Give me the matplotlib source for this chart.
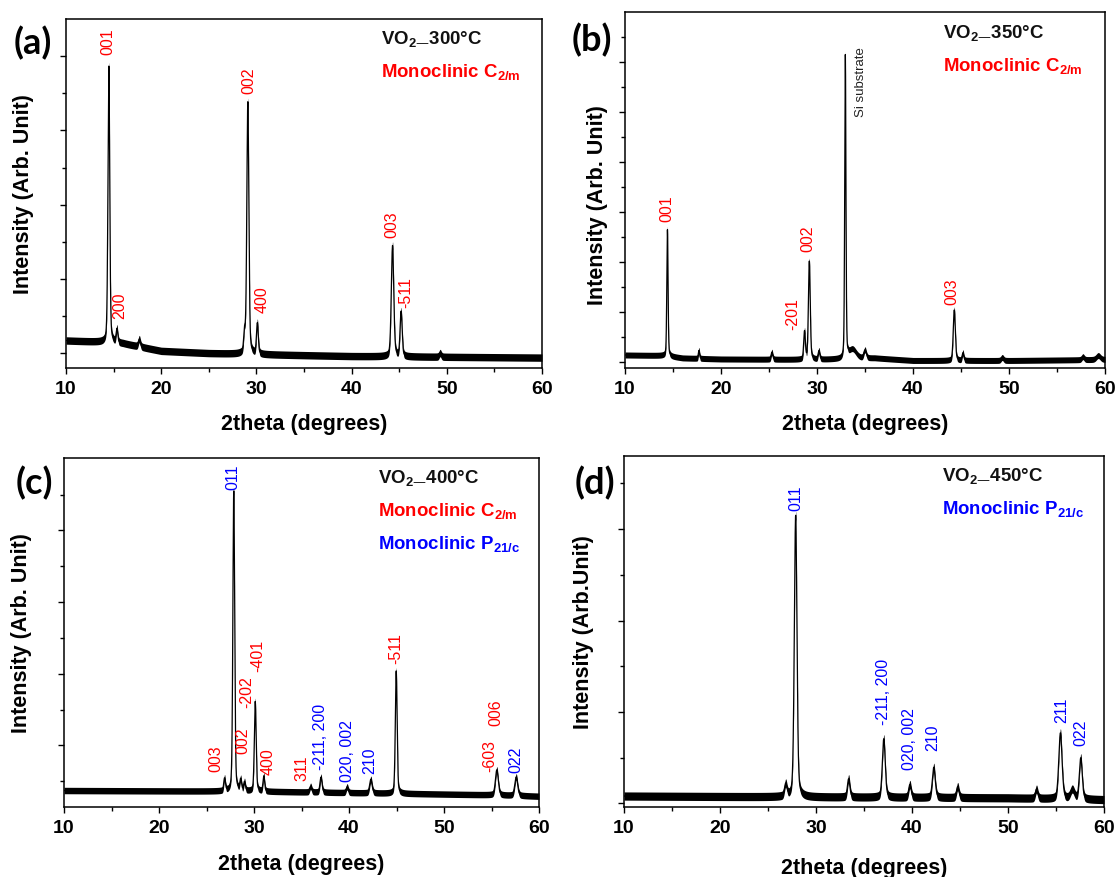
import numpy as np
import matplotlib
matplotlib.use("Agg")
import matplotlib.pyplot as plt
from matplotlib.ticker import MultipleLocator

plt.rcParams['font.family'] = ['Liberation Sans', 'DejaVu Sans']
plt.rcParams['mathtext.default'] = 'regular'

# ---- (a) VO2 300C ----
a_base_x = [10, 14, 16, 18, 20, 25, 32, 40, 50, 60]
a_base_y = [0.17, 0.15, 0.13, 0.08, 0.03, 0.0, -0.02, -0.04, -0.05, -0.06]
a_pos = [14.5, 15.35, 17.7, 28.75, 29.1, 30.1, 44.3, 45.2, 49.3]
a_hgt = [3.72, 0.18, 0.10, 0.25, 3.39, 0.41, 1.49, 0.60, 0.05]
a_fwhm = [0.22, 0.20, 0.25, 0.20, 0.25, 0.22, 0.30, 0.25, 0.25]
a_lab = ["001", "200", "002", "400", "003", "-511"]
a_lab_x = [14.4, 15.6, 29.25, 30.6, 44.2, 45.7]
a_lab_y = [4.03, 0.48, 3.51, 0.55, 1.56, 0.62]
a_lab_c = ["red"] * 6

# ---- (b) VO2 350C ----
b_base_x = [10, 14, 16, 20, 30, 32, 36, 40, 50, 60]
b_base_y = [0.14, 0.13, 0.08, 0.06, 0.05, 0.06, 0.08, 0.03, 0.03, 0.05]
b_pos = [14.42, 17.7, 25.3, 28.7, 29.2, 30.2, 32.95, 33.7, 35.0, 44.3, 45.2, 49.3, 57.7, 59.3]
b_hgt = [2.53, 0.16, 0.14, 0.55, 1.96, 0.17, 6.05, 0.18, 0.16, 1.01, 0.15, 0.06, 0.06, 0.08]
b_fwhm = [0.15, 0.15, 0.20, 0.20, 0.22, 0.20, 0.15, 0.9, 0.3, 0.25, 0.20, 0.3, 0.3, 0.5]
b_lab = ["001", "-201", "002", "003"]
b_lab_x = [14.4, 27.5, 29.1, 44.0]
b_lab_y = [2.82, 0.66, 2.22, 1.16]
b_lab_c = ["red"] * 4

# ---- (c) VO2 400C ----
c_base_x = [10, 30, 45, 55, 60]
c_base_y = [-0.13, -0.14, -0.17, -0.19, -0.21]
c_pos = [26.9, 27.87, 28.6, 29.0, 30.13, 31.03, 35.96, 37.05, 39.8, 42.3, 44.97, 55.56, 57.6]
c_hgt = [0.17, 4.19, 0.15, 0.12, 1.25, 0.21, 0.08, 0.21, 0.08, 0.19, 1.71, 0.35, 0.26]
c_fwhm = [0.20, 0.22, 0.20, 0.20, 0.22, 0.20, 0.25, 0.25, 0.25, 0.30, 0.22, 0.35, 0.35]
c_lab = ["003", "011", "002", "-202", "-401", "400", "311", "-211, 200",
         "020, 002", "210", "-511", "-603", "006", "022"]
c_lab_x = [26.0, 27.76, 28.8, 29.26, 30.4, 31.5, 35.0, 37.05, 39.8, 42.2, 44.9, 54.8, 55.5, 57.6]
c_lab_y = [0.14, 4.08, 0.39, 1.03, 1.54, 0.10, 0.02, 0.17, 0.0, 0.12, 1.65, 0.14, 0.78, 0.13]
c_lab_c = ["red", "blue", "red", "red", "red", "red", "red", "blue",
           "blue", "blue", "red", "red", "red", "blue"]

# ---- (d) VO2 450C ----
d_base_x = [10, 30, 50, 60]
d_base_y = [0.08, 0.07, 0.06, 0.04]
d_pos = [26.84, 27.88, 33.4, 37.06, 39.78, 42.27, 44.76, 52.97, 55.46, 56.7, 57.58]
d_hgt = [0.13, 3.08, 0.20, 0.64, 0.14, 0.33, 0.12, 0.10, 0.72, 0.10, 0.45]
d_fwhm = [0.30, 0.32, 0.30, 0.35, 0.30, 0.35, 0.30, 0.30, 0.40, 0.50, 0.35]
d_lab = ["011", "-211, 200", "020, 002", "210", "211", "022"]
d_lab_x = [27.95, 37.06, 39.78, 42.2, 55.65, 57.6]
d_lab_y = [3.21, 0.87, 0.38, 0.58, 0.89, 0.64]
d_lab_c = ["blue"] * 6

two_theta = np.linspace(10, 60, 6001)


def pattern(bx, by, pos, hgt, fwhm):
    y = np.interp(two_theta, bx, by)
    for p, h, w in zip(pos, hgt, fwhm):
        g = np.exp(-4 * np.log(2) * ((two_theta - p) / w) ** 2)
        l = 1 / (1 + 4 * ((two_theta - p) / w) ** 2)
        y = y + h * (0.7 * g + 0.3 * l)
    return y


panels = [
    dict(rect=[66, 20, 542, 369], ylim=(-0.2, 4.5), major=[0, 1, 2, 3, 4],
         base=(a_base_x, a_base_y), peaks=(a_pos, a_hgt, a_fwhm), noise=0.05,
         labs=(a_lab, a_lab_x, a_lab_y, a_lab_c), title="300",
         phases=[("Monoclinic C$_{2/m}$", "red")], ylab="Intensity (Arb. Unit)",
         ylab_xy=(-0.09, 0.5), xlab_y=-0.16, letter="(a)", letter_xy=(14, 43)),
    dict(rect=[625, 13, 1105, 369], ylim=(-0.12, 7.0), major=[0, 1, 2, 3, 4, 5, 6],
         base=(b_base_x, b_base_y), peaks=(b_pos, b_hgt, b_fwhm), noise=0.06,
         labs=(b_lab, b_lab_x, b_lab_y, b_lab_c), title="350",
         phases=[("Monoclinic C$_{2/m}$", "red")], ylab="Intensity (Arb. Unit)",
         ylab_xy=(-0.058, 0.46), xlab_y=-0.157, letter="(b)", letter_xy=(572, 40)),
    dict(rect=[64, 459, 539, 808], ylim=(-0.36, 4.51), major=[0.5, 1.5, 2.5, 3.5],
         base=(c_base_x, c_base_y), peaks=(c_pos, c_hgt, c_fwhm), noise=0.045,
         labs=(c_lab, c_lab_x, c_lab_y, c_lab_c), title="400",
         phases=[("Monoclinic C$_{2/m}$", "red"), ("Monoclinic P$_{21/c}$", "blue")],
         ylab="Intensity (Arb. Unit)", ylab_xy=(-0.09, 0.5), xlab_y=-0.162,
         letter="(c)", letter_xy=(16, 483)),
    dict(rect=[624, 457, 1104, 808], ylim=(-0.04, 3.8), major=[0, 1, 2, 3],
         base=(d_base_x, d_base_y), peaks=(d_pos, d_hgt, d_fwhm), noise=0.045,
         labs=(d_lab, d_lab_x, d_lab_y, d_lab_c), title="450",
         phases=[("Monoclinic P$_{21/c}$", "blue")], ylab="Intensity (Arb.Unit)",
         ylab_xy=(-0.085, 0.5), xlab_y=-0.171, letter="(d)", letter_xy=(575, 483)),
]

W, H = 1116, 878
fig = plt.figure(figsize=(W / 100, H / 100), dpi=100)

for p in panels:
    x0, y0, x1, y1 = p["rect"]
    ax = fig.add_axes([x0 / W, 1 - y1 / H, (x1 - x0) / W, (y1 - y0) / H])
    y = pattern(*p["base"], *p["peaks"])
    # noise band around the pattern
    ax.fill_between(two_theta, y - p["noise"], y + p["noise"], color="black", lw=0)
    ax.plot(two_theta, y, color="black", lw=0.9)
    ax.set_xlim(10, 60)
    ax.set_ylim(*p["ylim"])
    ax.xaxis.set_major_locator(MultipleLocator(10))
    ax.xaxis.set_minor_locator(MultipleLocator(5))
    maj = p["major"]
    step = maj[1] - maj[0]
    ax.set_yticks(maj)
    minors = [m + step / 2 for m in maj] + [maj[0] - step / 2]
    ax.set_yticks([m for m in minors if p["ylim"][0] < m < p["ylim"][1]], minor=True)
    ax.set_yticklabels([])
    ax.tick_params(which="major", direction="out", length=4.5, width=1.0,
                   labelsize=14, pad=4)
    ax.tick_params(which="minor", direction="out", length=3, width=1.0)
    for lbl in ax.get_xticklabels():
        lbl.set_fontweight("bold")
    for s in ax.spines.values():
        s.set_linewidth(1.1)

    ax.set_xlabel("2theta (degrees)", fontsize=15.5, fontweight="bold", va="center")
    ax.xaxis.set_label_coords(0.5, p["xlab_y"])
    ax.set_ylabel(p["ylab"], fontsize=15.5, fontweight="bold", va="center")
    ax.yaxis.set_label_coords(*p["ylab_xy"])

    labs, lx, ly, lc = p["labs"]
    for t, xx, yy, cc in zip(labs, lx, ly, lc):
        ax.text(xx, yy, t, rotation=90, ha="center", va="bottom", color=cc, fontsize=11.5)
    if p["title"] == "350":
        ax.text(34.6, 4.92, "Si substrate", rotation=90, ha="center", va="bottom",
                color="#222222", fontsize=9.5)

    ax.text(0.662, 0.945, "VO$_{2—}$" + p["title"] + "°C", transform=ax.transAxes,
            ha="left", va="center", fontsize=13.4, fontweight="bold", color="#111111")
    for k, (ph, col) in enumerate(p["phases"]):
        ax.text(0.662, 0.852 - k * 0.095, ph, transform=ax.transAxes, ha="left",
                va="center", fontsize=13.4, fontweight="bold", color=col)

    lx0, ly0 = p["letter_xy"]
    fig.text(lx0 / W, 1 - ly0 / H, p["letter"], ha="left", va="center",
             fontsize=26, fontweight="bold", family=["Lato", "DejaVu Sans"])

fig.savefig("out.png", dpi=100)
